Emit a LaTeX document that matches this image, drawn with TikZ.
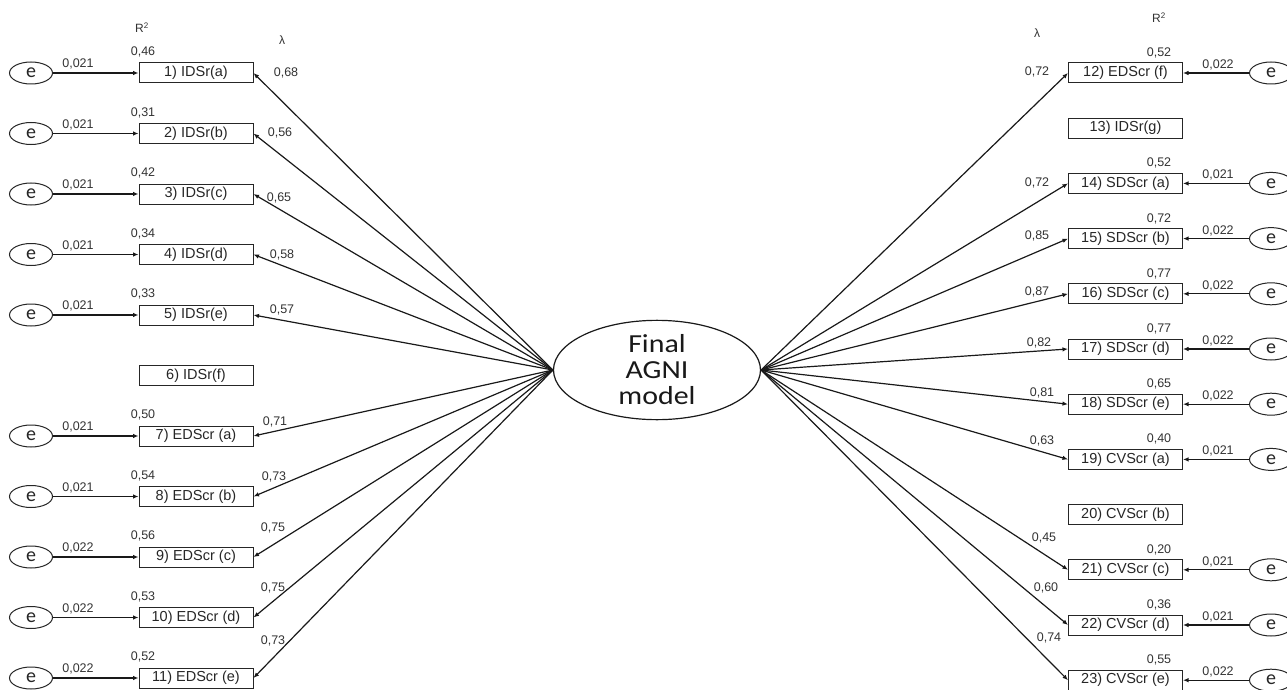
\documentclass[tikz,border=0pt]{standalone}
\usepackage{fontspec}
\setmainfont{Liberation Sans}
\newfontfamily\carl{Carlito}
\usetikzlibrary{arrows.meta,shapes.geometric}
\tikzset{
  itembox/.style={draw=black!85, line width=1pt, minimum width=114pt, minimum height=20pt, inner sep=0pt, text=black!85, font=\fontsize{14.5}{16}\selectfont},
  errnode/.style={draw=black!85, ellipse, line width=1pt, minimum width=43pt, minimum height=22pt, inner sep=0pt, font=\carl\fontsize{20}{20}\selectfont, text=black!85},
  num/.style={text=black!80, font=\fontsize{12.5}{14}\selectfont, inner sep=0pt},
  hdr/.style={text=black!80, font=\fontsize{12}{13}\selectfont, inner sep=0pt},
  path/.style={line width=1.2pt, draw=black!90, -{Latex[length=5.5pt,width=4.5pt]}},
}
\newcommand\mkleft[7]{%
  \node[itembox] (#1) at (196,#2) {#3};
  \node[errnode] (e#1) at (31,#2) {e};
  \draw[path] (e#1) -- (#1);
  \node[num] at (78,#2-9) {#5};
  \node[num] at (143,#2-21) {#4};
  \draw[path] (F.west) -- (#1.east);
  \node[num] at #7 {#6};
}
\newcommand\mkright[7]{%
  \node[itembox] (#1) at (1125.5,#2) {#3};
  \node[errnode] (e#1) at (1271,#2) {e};
  \draw[path] (e#1) -- (#1);
  \node[num] at (1218,#2-8) {#5};
  \node[num] at (1159,#2-20) {#4};
  \draw[path] (F.east) -- (#1.west);
  \node[num] at #7 {#6};
}
\newcommand\wide[1]{\scalebox{1.15}[1]{#1}}
\begin{document}
\begin{tikzpicture}[x=1pt,y=-1pt]
\useasboundingbox (0,0) rectangle (1287,690);
\clip (0,0) rectangle (1287,690);
\fill[white] (0,0) rectangle (1287,690);

\node[draw=black!90, line width=1.2pt, ellipse, minimum width=207pt, minimum height=98pt, inner sep=0pt, align=center, font=\carl\fontsize{26}{26}\selectfont, text=black!90] (F) at (657,370) {\wide{Final}\\\wide{AGNI}\\\wide{model}};

% headers
\node[hdr] (hR2l) at (142,28) {R\textsuperscript{2}};
\node[hdr] (hLl) at (282,40) {λ};
\node[hdr] (hR2r) at (1159,18) {R\textsuperscript{2}};
\node[hdr] (hLr) at (1037,33) {λ};

% left side
\mkleft{L1}{73}{1) IDSr(a)}{0,46}{0,021}{0,68}{(286,73)}
\mkleft{L2}{133.5}{2) IDSr(b)}{0,31}{0,021}{0,56}{(280,133)}
\mkleft{L3}{194}{3) IDSr(c)}{0,42}{0,021}{0,65}{(279,198)}
\mkleft{L4}{254.5}{4) IDSr(d)}{0,34}{0,021}{0,58}{(282,255)}
\mkleft{L5}{315}{5) IDSr(e)}{0,33}{0,021}{0,57}{(282,310)}
\node[itembox] (L6) at (196,375.5) {6) IDSr(f)};
\mkleft{L7}{436}{7) EDScr (a)}{0,50}{0,021}{0,71}{(275,422)}
\mkleft{L8}{496.5}{8) EDScr (b)}{0,54}{0,021}{0,73}{(274,477)}
\mkleft{L9}{557}{9) EDScr (c)}{0,56}{0,022}{0,75}{(273,528)}
\mkleft{L10}{617.5}{10) EDScr (d)}{0,53}{0,022}{0,75}{(273,588)}
\mkleft{L11}{678}{11) EDScr (e)}{0,52}{0,022}{0,73}{(273,641)}

% right side
\mkright{R12}{73}{12) EDScr (f)}{0,52}{0,022}{0,72}{(1037,72)}
\node[itembox] (R13) at (1125.5,128.2) {13) IDSr(g)};
\mkright{R14}{183.4}{14) SDScr (a)}{0,52}{0,021}{0,72}{(1037,183)}
\mkright{R15}{238.6}{15) SDScr (b)}{0,72}{0,022}{0,85}{(1037,236)}
\mkright{R16}{293.8}{16) SDScr (c)}{0,77}{0,022}{0,87}{(1037,292)}
\mkright{R17}{349}{17) SDScr (d)}{0,77}{0,022}{0,82}{(1039,343)}
\mkright{R18}{404.2}{18) SDScr (e)}{0,65}{0,022}{0,81}{(1042,393)}
\mkright{R19}{459.4}{19) CVScr (a)}{0,40}{0,021}{0,63}{(1042,441)}
\node[itembox] (R20) at (1125.5,514.6) {20) CVScr (b)};
\mkright{R21}{569.8}{21) CVScr (c)}{0,20}{0,021}{0,45}{(1044,538)}
\mkright{R22}{625}{22) CVScr (d)}{0,36}{0,021}{0,60}{(1046,588)}
\mkright{R23}{680.2}{23) CVScr (e)}{0,55}{0,022}{0,74}{(1049,638)}
\end{tikzpicture}
\end{document}
